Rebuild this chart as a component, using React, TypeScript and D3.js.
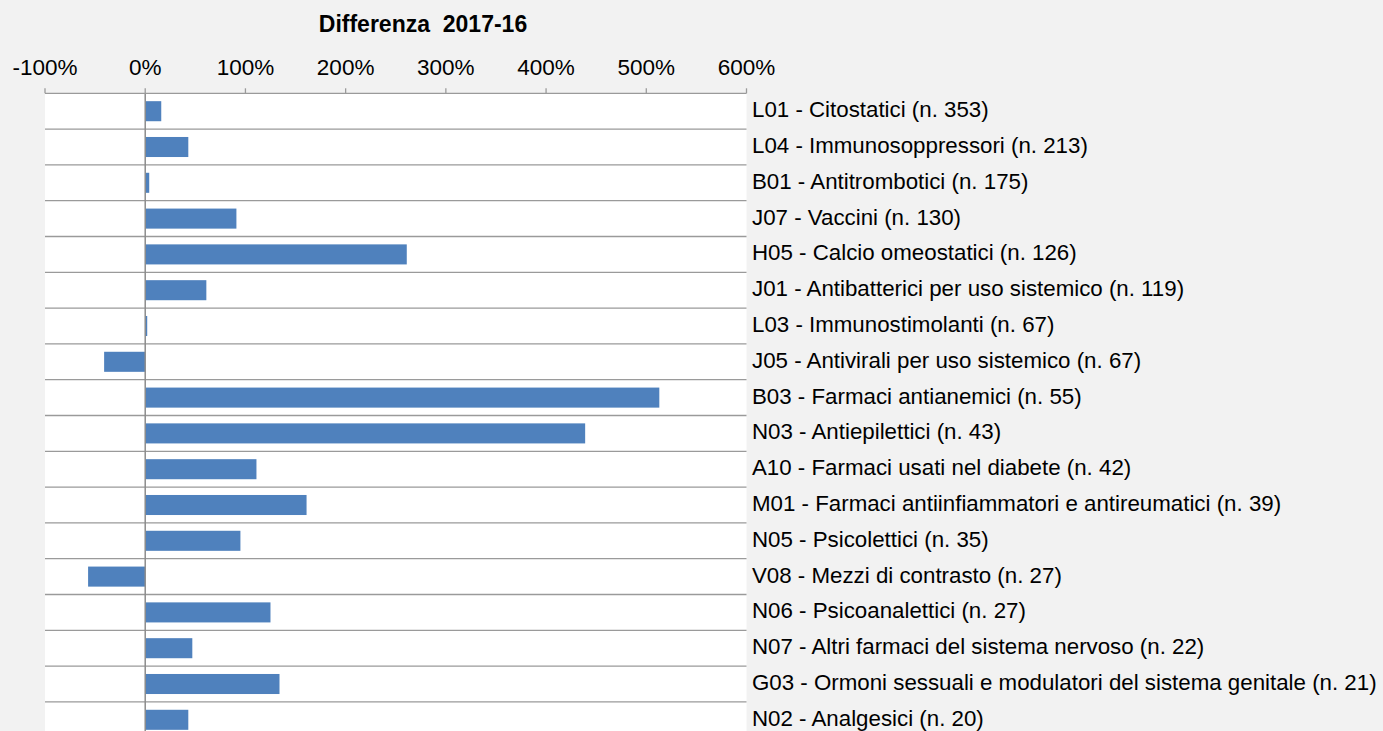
import React, { useEffect, useRef } from 'react';
import * as d3 from 'd3'

const categories = [
  'L01 - Citostatici (n. 353)',
  'L04 - Immunosoppressori (n. 213)',
  'B01 - Antitrombotici (n. 175)',
  'J07 - Vaccini (n. 130)',
  'H05 - Calcio omeostatici (n. 126)',
  'J01 - Antibatterici per uso sistemico (n. 119)',
  'L03 - Immunostimolanti (n. 67)',
  'J05 - Antivirali per uso sistemico (n. 67)',
  'B03 - Farmaci antianemici (n. 55)',
  'N03 - Antiepilettici (n. 43)',
  'A10 - Farmaci usati nel diabete (n. 42)',
  'M01 - Farmaci antiinfiammatori e antireumatici (n. 39)',
  'N05 - Psicolettici (n. 35)',
  'V08 - Mezzi di contrasto (n. 27)',
  'N06 - Psicoanalettici (n. 27)',
  'N07 - Altri farmaci del sistema nervoso (n. 22)',
  'G03 - Ormoni sessuali e modulatori del sistema genitale (n. 21)',
  'N02 - Analgesici (n. 20)',
]

// differenza percentuale 2017 vs 2016
const diff = [16, 43, 4, 91, 261, 61, 2, -41, 513, 439, 111, 161, 95, -57, 125, 47, 134, 43]

const ticks = [-100, 0, 100, 200, 300, 400, 500, 600]

const title = 'Differenza  2017-16'

const W = 1383
const H = 731

const App: React.FC = () => {
  const svgRef = useRef() as React.MutableRefObject<SVGSVGElement>

  useEffect(() => {
    const svg = d3.select(svgRef.current)
    svg.html('')

    const left = 45, right = 746.5, top = 93.3
    const step = 35.8

    const x = d3.scaleLinear().domain([-100, 600]).range([left, right])
    const y = d3.scaleBand<number>()
      .domain(d3.range(categories.length))
      .range([top, top + step * categories.length])
      .paddingInner(0.44)
      .paddingOuter(0.22)

    const font = '"Liberation Sans", Arial, sans-serif'

    svg.append('rect').attr('width', W).attr('height', H).attr('fill', '#f2f2f2')

    // plot area
    svg.append('rect')
      .attr('x', left).attr('y', top)
      .attr('width', right - left).attr('height', H - top + 10)
      .attr('fill', '#ffffff')

    // horizontal separators between categories
    svg.append('g')
      .selectAll('line')
      .data(d3.range(1, categories.length))
      .join('line')
      .attr('x1', left).attr('x2', right)
      .attr('y1', i => top + i * step).attr('y2', i => top + i * step)
      .attr('stroke', '#9a9a9a')
      .attr('stroke-width', 1.3)

    // bars
    svg.append('g')
      .selectAll('rect')
      .data(diff)
      .join('rect')
      .attr('x', d => x(Math.min(0, d)))
      .attr('width', d => Math.abs(x(d) - x(0)))
      .attr('y', (_, i) => y(i)!)
      .attr('height', y.bandwidth())
      .attr('fill', '#4f81bd')

    // zero line
    svg.append('line')
      .attr('x1', x(0)).attr('x2', x(0))
      .attr('y1', top).attr('y2', H)
      .attr('stroke', '#8c8c8c')
      .attr('stroke-width', 1.5)

    // top axis
    const axis = svg.append('g')
    axis.append('line')
      .attr('x1', left).attr('x2', right)
      .attr('y1', top).attr('y2', top)
      .attr('stroke', '#9a9a9a').attr('stroke-width', 1.3)
    axis.selectAll('line.tick')
      .data(ticks)
      .join('line')
      .attr('class', 'tick')
      .attr('x1', d => x(d)).attr('x2', d => x(d))
      .attr('y1', top - 5).attr('y2', top)
      .attr('stroke', '#9a9a9a').attr('stroke-width', 1.3)
    axis.selectAll('text')
      .data(ticks)
      .join('text')
      .attr('x', d => x(d))
      .attr('y', 74.5)
      .attr('text-anchor', 'middle')
      .attr('font-family', font)
      .attr('font-size', 22.5)
      .attr('fill', '#000')
      .text(d => `${d}%`)

    // category labels on the right
    svg.append('g')
      .selectAll('text')
      .data(categories)
      .join('text')
      .attr('x', 752)
      .attr('y', (_, i) => top + (i + 0.5) * step - 1.5)
      .attr('dominant-baseline', 'central')
      .attr('font-family', font)
      .attr('font-size', 22.3)
      .attr('fill', '#000')
      .text(d => d)

    svg.append('text')
      .attr('x', 423)
      .attr('y', 32)
      .attr('text-anchor', 'middle')
      .attr('font-family', font)
      .attr('font-size', 23)
      .attr('font-weight', 'bold')
      .attr('fill', '#000')
      .attr('xml:space', 'preserve')
      .style('white-space', 'pre')
      .text(title)
  }, [])

  return (
    <div style={{ position: 'fixed', left: 0, top: 0 }}>
      <svg ref={svgRef} width={W} height={H} style={{ display: 'block' }} />
    </div>
  )
}

export default App
